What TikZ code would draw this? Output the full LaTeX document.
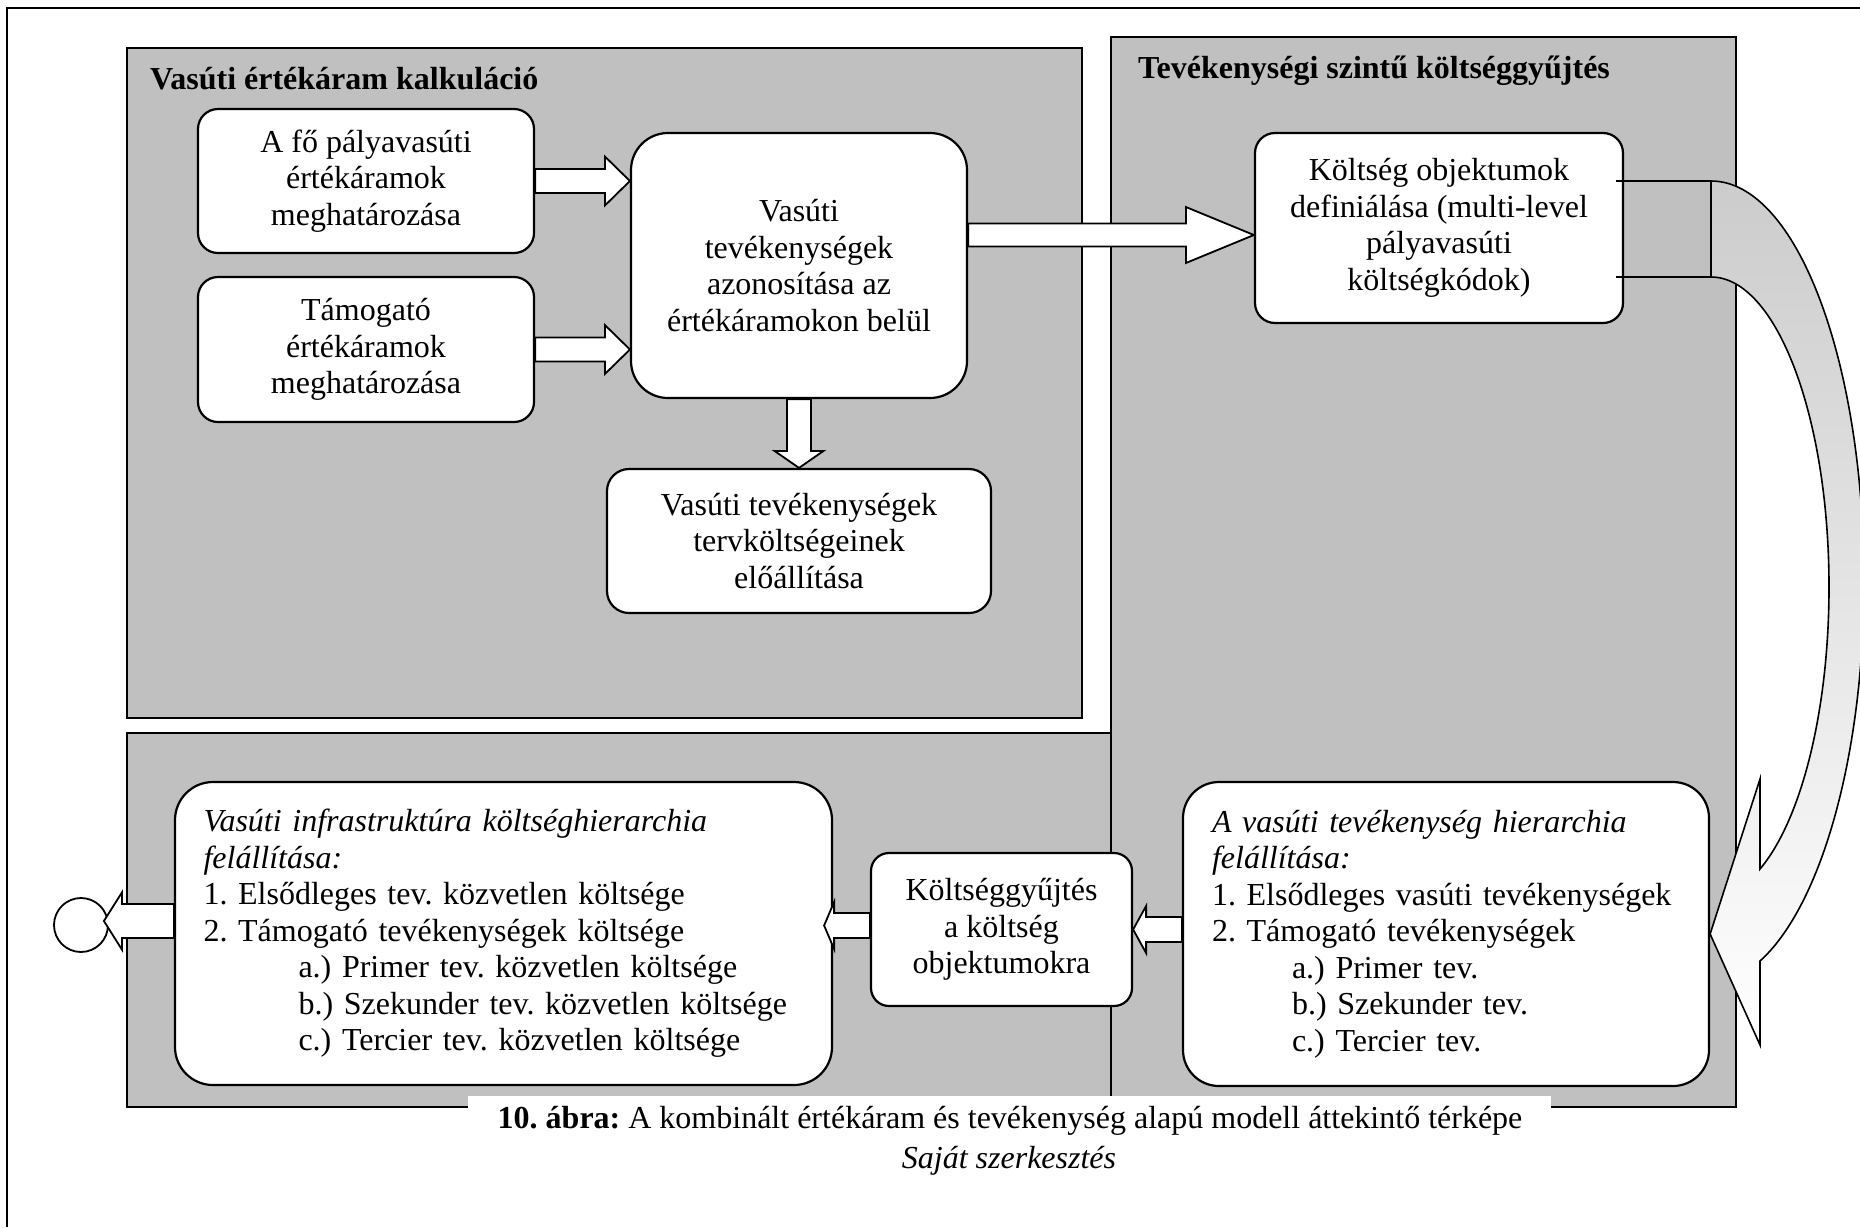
\documentclass[tikz,border=0pt]{standalone}
\usepackage{fontspec}
\setmainfont{Liberation Serif}
\usetikzlibrary{calc}
\frenchspacing

\definecolor{panelgray}{HTML}{C0C0C0}
\definecolor{bandgray}{HTML}{CCCCCC}
\newcommand\bodyfont{\fontsize{32}{36.5}\selectfont}

\tikzset{
  panel/.style={draw=black, line width=2pt, fill=panelgray},
  box/.style={draw=black, line width=2.2pt, fill=white, rounded corners=#1,
              inner sep=0pt, align=center, font=\bodyfont},
  box/.default=20pt,
  listbox/.style={box=#1, align=left},
  blockarrow/.style={draw=black, line width=1.8pt, fill=white, line join=miter},
  paneltitle/.style={anchor=base west, inner sep=0pt, font=\bodyfont\bfseries},
  captext/.style={anchor=base, inner sep=0pt, font=\bodyfont},
}

% white block arrow: from, to, shaft half-width, head half-width, head length
\newcommand\blockarrow[5]{%
  \draw[blockarrow]
    ($(#1)!#3!90:(#2)$) --
    ($($(#2)!#5!(#1)$)!#3!90:(#2)$) --
    ($($(#2)!#5!(#1)$)!#4!90:(#2)$) --
    (#2) --
    ($($(#2)!#5!(#1)$)!#4!-90:(#2)$) --
    ($($(#2)!#5!(#1)$)!#3!-90:(#2)$) --
    ($(#1)!#3!-90:(#2)$) -- cycle;}

\begin{document}
\begin{tikzpicture}[x=1pt, y=-1pt]
\useasboundingbox (0,0) rectangle (1860,1227);

% page frame
\draw[line width=2pt] (7,1227) -- (7,8) -- (1860,8);

% grey panels
\draw[panel] (1111,37) rectangle (1736,1107);
\draw[panel] (127,48) rectangle (1082,718);
\draw[panel] (127,733) rectangle (1111,1107);

\node[paneltitle] (t1) at (150,89) {Vasúti értékáram kalkuláció};
\node[paneltitle] (t2) at (1138,78) {Tevékenységi szintű költséggyűjtés};

% caption area
\fill[white] (468,1096) rectangle (1551,1227);
\node[captext] (cap1) at (1010,1128)
  {\textbf{10. ábra:} A kombinált értékáram és tevékenység alapú modell áttekintő térképe};
\node[captext] (cap2) at (1009,1168) {\textit{Saját szerkesztés}};

% process boxes
\node[box, minimum width=336pt, minimum height=144pt] (A) at (366,181)
  {A fő pályavasúti\\értékáramok\\meghatározása};
\node[box, minimum width=336pt, minimum height=145pt] (B) at (366,349.5)
  {Támogató\\értékáramok\\meghatározása};
\node[box=37pt, minimum width=336pt, minimum height=265pt] (C) at (799,265.5)
  {Vasúti\\tevékenységek\\azonosítása az\\értékáramokon belül};
\node[box=22pt, minimum width=384pt, minimum height=144pt] (E) at (799,541)
  {Vasúti tevékenységek\\tervköltségeinek\\előállítása};
\node[box, minimum width=368pt, minimum height=190pt] (D) at (1439,228)
  {Költség objektumok\\definiálása (multi-level\\pályavasúti\\költségkódok)};
\node[listbox=38pt, minimum width=657pt, minimum height=303pt, text width=600pt] (F) at (503.5,933.5)
  {\textit{Vasúti infrastruktúra költséghierarchia}\\
   \textit{felállítása:}\\
   1. Elsődleges tev. közvetlen költsége\\
   2. Támogató tevékenységek költsége\\
   \hspace*{95pt}a.) Primer tev. közvetlen költsége\\
   \hspace*{95pt}b.) Szekunder tev. közvetlen költsége\\
   \hspace*{95pt}c.) Tercier tev. közvetlen költsége};
\node[box=18pt, minimum width=261pt, minimum height=153pt] (G) at (1001.5,929.5)
  {Költséggyűjtés\\a költség\\objektumokra};
\node[listbox=36pt, minimum width=526pt, minimum height=304pt, text width=468pt] (H) at (1446,934)
  {\textit{A vasúti tevékenység hierarchia}\\
   \textit{felállítása:}\\
   1. Elsődleges vasúti tevékenységek\\
   2. Támogató tevékenységek\\
   \hspace*{80pt}a.) Primer tev.\\
   \hspace*{80pt}b.) Szekunder tev.\\
   \hspace*{80pt}c.) Tercier tev.};
\node[draw=black, line width=1.8pt, fill=white, circle, minimum size=54pt, inner sep=0pt] (O) at (81,925) {};

% connector end points
\coordinate (ac) at (C.west |- A.east);
\coordinate (bc) at (C.west |- B.east);
\coordinate (cdstart) at ($(C.east |- D.west)+(0,7)$);
\coordinate (cdend) at ($(D.west)+(0,7)$);
\coordinate (hg) at (H.west |- G.east);
\coordinate (gfstart) at ($(G.west)+(0,-4)$);
\coordinate (gf) at ($(F.east |- G.west)+(-9,-4)$);
\coordinate (fo) at ($(F.west |- O.east)+(0,-4)$);
\coordinate (otip) at ($(O.east)+(-5,-4)$);

% white block arrows
\blockarrow{A.east}{ac}{12pt}{24.5pt}{25pt}
\blockarrow{B.east}{bc}{12pt}{24.5pt}{25pt}
\blockarrow{cdstart}{cdend}{11.5pt}{28pt}{68pt}
\blockarrow{C.south}{E.north}{12pt}{24.5pt}{17pt}
\blockarrow{hg}{G.east}{12.5pt}{23.5pt}{13pt}
\blockarrow{gfstart}{gf}{12.5pt}{23.5pt}{10pt}
\blockarrow{fo}{otip}{17pt}{28.5pt}{18pt}

% curved arrow from the cost objects down to the activity hierarchy
\draw[line width=1.8pt] (1616,181) -- (1711,181);
\draw[line width=1.8pt] (1616,277) -- (1711,277);
\draw[line width=1.6pt, line join=miter, top color=bandgray, bottom color=white]
  (1711,181) .. controls (1796,181) and (1864,360) .. (1864,582)
  .. controls (1864,753) and (1822,905) .. (1760,961)
  -- (1760,1045) -- (H.east) -- (1760,779) -- (1760,869)
  .. controls (1802,819) and (1829,709) .. (1829,587)
  .. controls (1829,416) and (1776,277) .. (1711,277) -- cycle;

\end{tikzpicture}
\end{document}
